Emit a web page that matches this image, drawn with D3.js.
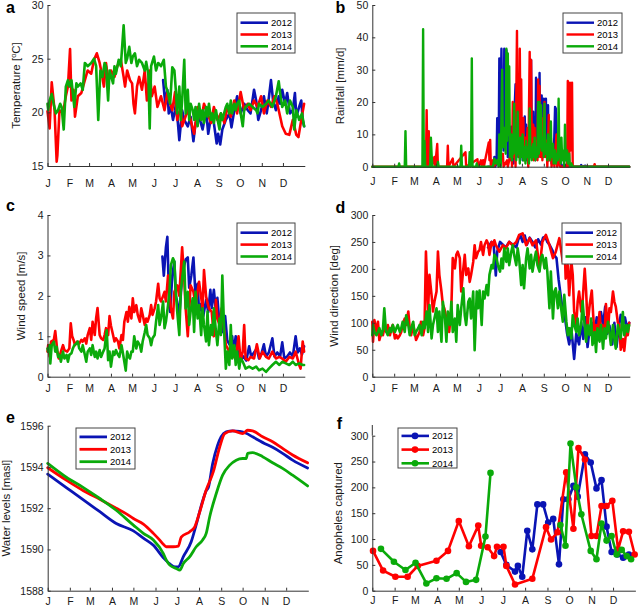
<!DOCTYPE html>
<html><head><meta charset="utf-8">
<script src="https://cdn.jsdelivr.net/npm/d3@7"></script>
<style>body{margin:0;background:#fff}svg{font-family:Arial,"Liberation Sans",Helvetica,sans-serif}</style>
</head><body><svg id="chart" width="638" height="607"></svg>
<script>
const years = ["2012","2013","2014"];
const colors = ["#0a14b4","#ff0000","#0aaa0a"];
const monthTicks = [1,32,60,91,121,152,182,213,244,274,305,335];
const monthLabels = ["J","F","M","A","M","J","J","A","S","O","N","D"];

// (a) Temperature [°C], [day, value]
const tempB = [[165,23],[168,20.8],[171,22.1],[173,19.9],[176,20.5],[179,19.3],[182,20.2],[183,20.8],[186,19],[188,17.4],[192,20.2],[195,19.3],[200,18.7],[204,19.6],[208,17.3],[211,19],[216,19.6],[221,18.4],[226,20.2],[229,18],[233,19.6],[237,19],[241,17.1],[243,18],[246,17],[249,18.4],[254,19.3],[259,19.9],[262,18.6],[266,20.2],[270,21.5],[275,19.9],[280,20.8],[285,20.2],[289,19.9],[294,22.1],[297,21.1],[300,19.3],[304,20.2],[308,21.5],[312,19.9],[314,20.8],[318,23],[321,21.1],[325,20.2],[329,21.5],[331,20.8],[334,22.1],[338,20.8],[341,21.8],[345,19.9],[349,20.2],[352,21.8],[354,19.6],[358,20.5],[361,21.1],[363,19.3],[365,18.7]];
const tempR = [[1,20.1],[4,18.5],[7,22.8],[11,20.2],[14,15.4],[15,16],[18,20.2],[23,19.9],[27,21.5],[30,22.4],[33,25.9],[35,21.1],[38,22.1],[40,19.6],[44,21.5],[49,21.8],[54,23],[58,23.9],[63,23.6],[67,24.9],[71,25.5],[75,24.6],[78,23.6],[81,22.4],[84,24.6],[87,23],[91,23.9],[96,23.3],[100,24.3],[105,24.9],[109,23.3],[111,22.4],[114,23.9],[118,23],[121,22.7],[123,20.8],[125,19.9],[128,22.4],[131,23.3],[135,22.1],[139,23.9],[142,21.1],[146,23.9],[149,21.5],[153,22.4],[157,20.5],[162,21.5],[167,20.2],[171,21.8],[175,20.8],[178,20.2],[182,21.9],[185,19.3],[190,20.5],[192,18.7],[200,20.2],[204,19.3],[209,18],[214,20.5],[219,19.3],[223,20.8],[228,19.9],[233,19],[237,20.5],[242,19.3],[247,19.9],[252,19],[256,20.5],[261,19.6],[266,21.1],[270,19.9],[275,21.9],[280,20.2],[285,20.8],[289,20.2],[294,21.1],[299,20.5],[304,21.5],[308,19.9],[313,21.1],[318,20.5],[323,21.5],[327,20.8],[332,19.3],[334,18.7],[339,18],[344,17.9],[349,19.3],[354,17.9],[357,17.7],[361,19.3],[365,20.8]];
const tempG = [[1,20.8],[2,20.2],[4,21.1],[7,21.7],[10,20.7],[13,19.9],[16,20.2],[19,20.8],[21,20.5],[24,18.4],[27,22.4],[30,23],[32,22.4],[35,23],[39,20.5],[42,22.7],[44,22.4],[48,22.7],[51,22.1],[54,24.6],[58,24.3],[63,24.6],[67,25],[70,24.3],[73,19.3],[76,23.9],[79,23.3],[82,24.6],[84,24.3],[87,21.1],[89,23.9],[94,22.7],[96,24.3],[98,23.6],[102,24.9],[105,24.3],[109,28.1],[112,24.6],[114,25],[117,26.1],[120,24.6],[122,25.2],[125,25.5],[128,24.3],[131,24.9],[135,24.6],[139,23.9],[141,24.7],[144,23.6],[146,18.5],[148,24.3],[152,25.2],[155,23.9],[158,24.6],[162,24.3],[166,24.9],[169,22.4],[172,21.8],[175,20.8],[178,24.2],[181,23.9],[183,22.1],[185,19.9],[188,22.4],[190,19.3],[192,21.1],[195,24.9],[197,19.9],[200,22.1],[202,19.3],[204,20.8],[207,20.2],[209,19.3],[211,20.5],[214,18.7],[216,20.8],[219,19.3],[221,20.2],[223,19],[226,20.5],[228,19.6],[230,20.8],[233,19.3],[235,19.9],[237,19],[240,20.2],[242,19.4],[245,18.4],[247,19.9],[249,19.3],[254,20.5],[256,20.8],[259,19.9],[261,21.1],[263,19.9],[266,20.8],[268,20.2],[270,20.8],[273,21.1],[275,19.9],[278,18.7],[280,20.2],[282,20.5],[287,20.8],[292,20.5],[297,20.2],[299,19.9],[301,20.8],[306,20.5],[311,20.8],[315,21.1],[320,20.5],[325,21.5],[329,22.9],[331,21.8],[334,20.5],[338,21.1],[341,19.9],[345,21.1],[349,20.5],[351,18.4],[354,20.2],[358,19.3],[362,19.9],[365,18.7]];

// (b) Rainfall [mm/d]
const rainB = [[165,0],[173,0],[174,3],[175,0],[177,1],[178,15],[179,2],[180,5],[181,33.5],[182,10],[184,36.5],[185,12],[186,20],[187,5],[188,36.5],[189,10],[190,20],[191,36],[192,30],[193,3],[194,5],[195,9],[196,2],[198,12.4],[199,3],[200,6],[201,1],[203,20],[204,25.5],[205,4],[207,12],[208,3],[210,15.5],[211,3],[213,8],[214,2],[215,10],[216,3],[217,15.5],[218,4],[219,13],[220,2],[222,7],[223,2],[225,10],[226,33],[227,5],[229,17],[230,3],[231,6],[232,2],[233,27.5],[234,5],[235,10],[236,3],[238,29],[239,6],[240,10],[241,22],[242,3],[244,21],[245,4],[246,6],[247,21],[248,3],[250,19],[251,2],[253,6],[254,8],[255,1],[257,5],[258,2],[260,18.5],[261,18],[262,3],[264,6],[265,1],[267,3],[268,2],[269,0],[272,0.5],[273,0],[296,0],[297,0.5],[298,0],[303,0.3],[304,0],[365,0]];
const rainR = [[1,0],[77,0],[78,17.5],[79,2],[80,0],[81,11],[82,0],[84,3],[85,0],[89,3],[90,0],[93,7],[94,0],[107,0],[108,6.5],[109,0],[115,2.5],[116,0],[133,4.5],[134,0],[150,2.3],[151,0],[155,2],[156,0],[158,2],[159,0],[166,7.5],[167,2],[168,8.3],[169,0],[172,2],[173,0],[186,4],[187,0],[192,2],[193,0],[198,5],[199,0],[200,20],[201,3],[203,8],[204,0],[206,42],[207,5],[208,10],[209,3],[210,36.5],[211,8],[212,27],[213,4],[215,15],[216,2],[218,9],[219,3],[221,12],[222,0],[224,35.5],[225,6],[226,33],[227,4],[229,13],[230,2],[231,12],[232,3],[234,8],[235,2],[236,27],[237,5],[238,25],[239,3],[241,15],[242,2],[245,20],[246,3],[248,8],[249,0],[251,16],[252,2],[254,9],[255,0],[258,5],[259,0],[262,10],[263,0],[266,3],[267,0],[277,0],[278,26.5],[279,3],[280,0],[281,26],[282,5],[284,26],[285,0],[315,0],[316,0.8],[317,0],[365,0]];
const rainG = [[1,0],[38,0],[39,1],[40,0],[47,0],[48,11],[49,0],[72,0],[73,42.5],[74,0],[75,8],[76,0],[83,0],[84,9],[85,4],[86,0],[93,0],[94,1.5],[95,0],[126,0],[127,6.5],[128,0],[138,0],[139,4.5],[140,0],[141,1],[142,33.5],[143,0],[148,0],[149,1],[150,0],[172,0],[174,2.5],[176,1],[178,2],[180,0],[181,10],[182,3],[183,0],[185,30],[186,6],[188,12],[190,4],[191,36.5],[192,8],[193,35],[194,10],[195,31],[196,3],[198,10],[199,2],[200,9],[201,4],[202,19.5],[203,5],[204,8],[205,2],[207,17],[208,4],[209,8],[210,1],[211,9],[212,3],[214,10],[215,2],[217,6],[218,1],[219,8],[220,3],[222,6],[223,1],[224,18],[225,3],[226,6],[227,2],[229,7],[230,3],[231,9],[232,2],[234,6],[235,3],[236,20],[237,4],[238,20],[239,6],[240,19],[241,5],[243,9],[244,3],[245,19.5],[246,4],[248,7],[249,2],[250,10],[251,3],[252,6],[253,2],[254,14],[255,3],[257,7],[258,1],[260,5],[261,1],[263,4],[264,2],[265,21],[266,3],[267,6],[268,1],[269,9],[270,2],[272,5],[273,0],[274,13],[275,2],[277,5],[278,1],[280,4],[281,0],[283,1],[285,0],[365,0]];

// (c) Wind speed [m/s]
const windB = [[164,2.97],[166,2.5],[169,3.2],[171,3.46],[173,2.2],[175,1.6],[178,2.5],[181,2.85],[183,2.0],[185,1.85],[188,1.5],[192,2.5],[195,2.76],[197,2.9],[200,2.95],[202,2.2],[205,2.5],[208,2.95],[211,2.0],[214,2.3],[216,1.6],[219,1.8],[222,1.5],[226,1.9],[229,1.6],[232,2.15],[234,1.7],[237,2.15],[240,1.6],[242,1.95],[245,1.3],[248,1.5],[250,1.1],[253,1.5],[256,0.9],[259,0.8],[263,1.0],[265,0.6],[268,1.0],[271,0.6],[275,0.4],[279,0.5],[283,0.4],[287,0.75],[290,0.5],[294,0.6],[298,0.7],[301,0.45],[305,0.6],[308,0.8],[311,0.5],[315,0.6],[320,0.95],[323,0.5],[327,0.6],[331,0.5],[334,0.85],[337,0.45],[341,0.5],[345,0.6],[349,0.5],[353,1.0],[356,0.6],[359,0.7],[362,0.55],[365,0.75]];
const windR = [[1,0.62],[2,0.78],[4,0.5],[6,0.87],[10,0.91],[12,1.13],[15,0.62],[17,0.45],[20,0.62],[23,0.78],[25,0.66],[29,0.62],[32,0.7],[34,1.32],[36,1.0],[38,0.91],[40,0.78],[43,0.87],[46,0.82],[49,0.91],[51,0.87],[54,0.95],[56,0.82],[58,1.03],[61,1.2],[63,0.91],[65,1.36],[68,1.03],[70,1.45],[72,1.7],[75,1.03],[77,0.95],[80,0.91],[82,1.03],[84,1.2],[87,1.03],[89,1.5],[91,1.26],[94,1.03],[96,0.87],[98,0.95],[101,0.87],[103,0.7],[106,1.03],[108,0.91],[110,1.36],[113,1.6],[115,1.36],[117,1.73],[120,1.44],[122,1.94],[124,1.6],[127,1.77],[129,1.53],[132,1.36],[134,1.69],[136,1.53],[139,1.28],[141,1.44],[143,1.36],[146,1.53],[148,1.77],[150,1.53],[153,1.69],[155,1.86],[158,2.3],[160,1.94],[162,1.86],[165,2.0],[167,2.1],[169,1.86],[172,2.5],[174,2.1],[176,1.69],[179,1.44],[181,2.1],[185,2.26],[188,2.0],[192,3.2],[195,2.4],[197,1.69],[200,1.0],[204,2.26],[208,2.1],[211,1.77],[216,2.35],[221,1.69],[223,2.64],[226,1.98],[230,1.69],[234,1.6],[237,1.0],[240,1.9],[242,1.44],[245,1.28],[248,1.69],[252,1.1],[254,0.78],[259,0.62],[263,0.54],[268,0.45],[272,1.0],[275,0.4],[278,0.62],[280,1.28],[282,0.45],[286,0.41],[289,0.49],[294,0.45],[298,0.8],[302,0.45],[306,0.62],[311,0.49],[315,0.45],[320,0.62],[325,0.45],[330,0.49],[334,0.45],[339,0.37],[344,0.49],[349,0.45],[353,0.62],[358,0.29],[360,0.2],[363,0.87],[365,0.62]];
const windG = [[1,0.7],[2,0.62],[4,0.78],[5,0.33],[7,0.78],[10,0.87],[12,0.62],[14,0.74],[16,0.49],[18,0.54],[20,0.37],[23,0.62],[25,0.45],[28,0.54],[30,0.37],[32,0.54],[35,0.58],[37,0.7],[39,0.78],[42,0.82],[44,0.87],[46,0.7],[49,0.62],[51,0.78],[54,0.54],[56,0.37],[58,0.62],[61,0.7],[63,0.54],[65,0.78],[68,0.49],[70,0.62],[72,0.45],[75,0.66],[77,0.49],[80,0.62],[82,0.7],[85,1.15],[87,0.41],[89,0.62],[91,0.25],[94,0.62],[96,0.54],[98,0.66],[101,0.54],[103,0.49],[106,0.78],[108,0.58],[110,0.37],[112,0.15],[114,0.62],[116,0.49],[118,0.45],[120,0.62],[122,0.62],[124,1.0],[127,0.7],[129,0.87],[132,0.78],[134,0.62],[136,0.87],[139,1.1],[141,1.28],[143,1.03],[146,0.95],[148,0.78],[150,0.95],[153,1.03],[155,1.36],[158,1.77],[160,1.28],[162,1.44],[165,1.86],[167,1.2],[169,1.36],[172,1.77],[174,2.1],[176,2.76],[179,2.93],[181,2.85],[183,2.1],[185,1.61],[188,1.03],[190,2.1],[192,2.43],[195,2.85],[197,1.69],[200,2.1],[202,1.28],[204,1.61],[207,1.94],[209,1.11],[211,2.1],[214,1.44],[216,1.77],[219,1.03],[221,1.69],[223,1.28],[226,0.87],[228,1.61],[230,0.78],[233,1.28],[235,1.03],[237,1.69],[240,1.11],[242,0.78],[245,1.44],[247,1.03],[249,2.5],[252,0.95],[254,0.2],[256,0.62],[259,0.29],[261,1.28],[263,0.45],[266,0.78],[268,0.29],[270,0.62],[273,0.2],[275,0.45],[278,0.37],[280,0.29],[282,0.2],[287,0.25],[292,0.2],[297,0.25],[301,0.16],[306,0.2],[311,0.12],[315,0.2],[320,0.29],[325,0.37],[330,0.29],[334,0.37],[339,0.33],[344,0.29],[349,0.37],[353,0.29],[358,0.33],[363,0.29],[365,0.29]];

// (d) Wind direction [deg]
const dirB = [[165,240],[170,250],[173,245],[176,188],[178,232],[182,250],[186,245],[190,240],[195,250],[200,245],[205,240],[208,255],[211,262],[214,250],[217,262],[220,245],[224,258],[228,250],[232,240],[236,255],[240,245],[243,258],[246,260],[249,250],[252,245],[256,235],[259,225],[262,220],[265,180],[268,150],[271,120],[274,110],[277,80],[280,60],[283,90],[287,33],[290,80],[294,60],[297,100],[300,70],[303,110],[306,55],[309,90],[312,100],[316,80],[319,110],[322,85],[325,120],[328,95],[331,130],[334,80],[337,95],[341,60],[344,100],[347,55],[350,90],[353,115],[356,95],[359,110],[362,90],[365,100]];
const dirR = [[1,102],[2,65],[4,105],[7,83],[9,102],[11,68],[14,83],[16,77],[18,90],[21,83],[23,96],[26,77],[28,90],[30,96],[33,71],[35,77],[37,71],[40,77],[42,83],[44,96],[47,108],[49,96],[52,121],[54,90],[56,77],[59,96],[61,83],[63,68],[66,77],[68,83],[70,102],[73,77],[75,90],[77,232],[80,121],[82,189],[85,151],[87,121],[89,139],[92,158],[94,232],[96,189],[99,158],[101,133],[103,127],[106,108],[108,96],[110,83],[113,127],[115,220],[118,201],[120,226],[122,232],[125,220],[127,158],[130,201],[132,226],[134,189],[137,201],[139,176],[141,189],[144,213],[146,244],[148,220],[151,232],[153,235],[155,250],[158,226],[160,244],[163,253],[165,247],[167,226],[170,250],[172,244],[174,253],[176,244],[181,232],[186,244],[190,238],[195,250],[200,244],[205,250],[209,263],[214,266],[219,244],[224,257],[228,244],[233,253],[238,201],[242,250],[247,263],[252,244],[257,220],[261,232],[266,257],[271,213],[273,262],[275,182],[278,207],[280,151],[283,215],[285,189],[287,121],[290,96],[292,139],[294,158],[297,121],[299,140],[302,200],[304,158],[306,96],[309,133],[312,160],[314,114],[316,77],[318,96],[320,77],[323,120],[325,83],[327,96],[330,71],[332,135],[335,83],[337,127],[339,120],[342,158],[344,139],[346,130],[349,100],[351,96],[353,50],[356,70],[358,48],[361,90],[363,77],[365,100]];
const dirG = [[1,77],[2,96],[4,83],[7,77],[9,83],[11,90],[14,77],[16,87],[18,127],[20,90],[21,83],[23,77],[26,90],[28,83],[30,96],[33,83],[35,90],[37,96],[40,83],[42,90],[44,102],[47,83],[49,114],[52,96],[54,77],[56,90],[59,102],[61,77],[63,83],[66,90],[68,96],[71,77],[73,102],[75,90],[78,121],[80,83],[82,133],[85,71],[87,96],[89,108],[92,127],[94,83],[96,121],[99,65],[101,139],[104,108],[106,65],[108,121],[111,96],[113,139],[115,83],[118,108],[120,65],[122,133],[125,96],[127,127],[130,164],[132,114],[134,96],[137,139],[139,145],[141,108],[144,158],[146,49],[149,158],[151,127],[153,160],[156,96],[158,158],[160,145],[163,170],[165,151],[167,189],[170,207],[172,201],[174,226],[177,220],[179,207],[182,195],[184,219],[186,201],[188,238],[191,213],[193,238],[195,207],[198,232],[200,244],[202,226],[205,207],[207,238],[209,220],[212,170],[214,207],[216,164],[219,220],[221,238],[224,201],[226,226],[228,195],[231,220],[233,232],[235,207],[238,195],[240,220],[242,226],[245,201],[247,220],[249,195],[252,127],[254,195],[257,108],[259,158],[261,164],[264,127],[266,158],[268,133],[271,102],[273,152],[276,102],[278,77],[280,90],[283,71],[285,114],[287,96],[290,83],[292,108],[294,77],[297,96],[299,140],[301,108],[304,65],[306,96],[309,77],[311,108],[313,59],[316,83],[318,46],[320,90],[323,65],[325,96],[328,52],[330,90],[332,71],[335,102],[337,83],[339,59],[342,96],[344,71],[346,52],[349,96],[351,83],[353,71],[356,120],[358,77],[361,96],[363,83],[365,96]];

// (e) Water levels [masl]
const levelB = [[1,1593.65],[27,1593.0],[51,1592.4],[74,1591.83],[97,1591.26],[121,1590.9],[135,1590.55],[149,1590.2],[163,1589.6],[172,1589.3],[180,1589.15],[184,1589.16],[191,1589.65],[202,1590.37],[209,1591.2],[218,1592.35],[223,1592.85],[226,1593.0],[232,1594.15],[239,1595.06],[244,1595.47],[251,1595.7],[260,1595.75],[270,1595.72],[279,1595.63],[288,1595.46],[307,1595.1],[316,1594.95],[330,1594.66],[344,1594.33],[365,1593.95]];
const levelR = [[1,1593.96],[27,1593.36],[51,1592.85],[74,1592.43],[97,1592.0],[110,1591.75],[121,1591.5],[135,1591.23],[149,1590.78],[158,1590.45],[163,1590.25],[167,1590.13],[177,1590.13],[184,1590.16],[188,1590.6],[200,1590.86],[207,1591.1],[214,1591.83],[223,1592.88],[233,1593.77],[242,1594.98],[249,1595.62],[260,1595.75],[274,1595.62],[281,1595.78],[288,1595.75],[302,1595.46],[316,1595.22],[330,1594.9],[344,1594.58],[365,1594.2]];
const levelG = [[1,1594.17],[27,1593.5],[51,1593.0],[74,1592.47],[97,1591.9],[121,1591.18],[135,1590.78],[149,1590.46],[163,1589.8],[167,1589.49],[172,1589.24],[181,1589.08],[186,1589.0],[191,1589.32],[200,1589.65],[209,1590.13],[218,1590.46],[223,1590.78],[228,1591.6],[237,1592.7],[246,1593.6],[256,1594.09],[265,1594.33],[274,1594.41],[279,1594.41],[281,1594.66],[288,1594.69],[302,1594.5],[316,1594.2],[330,1593.93],[344,1593.6],[365,1593.08]];

// (f) Anopheles captured (null = gap)
const anoB = [[179,75],[187,50],[199,37],[203,48],[209,27],[216,116],[223,80],[230,167],[238,167],[245,132],[252,139],[260,51],[266,177],[273,177],[280,203],[286,182],[296,264],[304,248],[312,198],[319,214],[326,124],[333,75],[341,70],[349,64],[357,70]];
const anoR = [[2,77],[16,39],[33,27],[50,27],[64,48],[90,58],[106,77],[121,135],[135,86],[148,126],[152,87],[161,84],[170,67],[174,85],[183,85],[187,48],[199,12],[223,23],[242,123],[249,99],[258,113],[270,229],[280,120],[287,276],[296,254],[305,106],[312,106],[319,164],[326,164],[334,174],[342,80],[349,115],[357,114],[365,70]];
const anoG = [[13,81],[31,56],[47,40],[61,54],[76,14],[90,24],[104,23],[118,34],[131,17],[145,21],[158,105],[165,228],[200,null],[262,127],[269,87],[276,285],[284,200],[291,148],[304,77],[312,61],[319,130],[326,97],[333,106],[340,70],[347,79],[354,67],[360,61]];

const svg = d3.select("#chart");
const fmt = d3.format("~g");

function drawPanel(p) {
  const g = svg.append("g");
  const x = d3.scaleLinear().domain([1, 366]).range([p.x0, p.x1]);
  const y = d3.scaleLinear().domain(p.yDomain).range([p.yBot, p.yTop]);
  const line = d3.line().defined(d => d[1] != null).x(d => x(d[0])).y(d => y(d[1]));
  if (p.curve) line.curve(p.curve);
  p.series.forEach((s, i) => {
    g.append("path").datum(s).attr("d", line)
      .attr("fill", "none").attr("stroke", colors[i]).attr("stroke-width", p.lw)
      .attr("stroke-linejoin", "round").attr("stroke-linecap", "round");
    if (p.markers) {
      g.selectAll(null).data(s.filter(d => d[1] != null)).join("circle")
        .attr("cx", d => x(d[0])).attr("cy", d => y(d[1])).attr("r", 3.3).attr("fill", colors[i]);
    }
  });
  const ax = g.append("g").attr("transform", `translate(0,${p.yBot})`)
    .call(d3.axisBottom(x).tickValues(monthTicks).tickFormat((d, i) => monthLabels[i]).tickSize(-3).tickSizeOuter(0).tickPadding(p.xPad));
  const ay = g.append("g").attr("transform", `translate(${p.x0},0)`)
    .call(d3.axisLeft(y).tickValues(p.yTicks).tickFormat(fmt).tickSize(-3).tickSizeOuter(0).tickPadding(4));
  [ax, ay].forEach(a => {
    a.selectAll("text").attr("font-size", "10.5px").attr("fill", "#1a1a1a").attr("font-family", "Arial, 'Liberation Sans', sans-serif");
    a.selectAll("line").attr("stroke", "#333");
    a.select(".domain").attr("stroke", "#333");
  });
  if (p.yExtTop != null) {
    g.append("line").attr("x1", p.x0).attr("x2", p.x0).attr("y1", p.yTop).attr("y2", p.yExtTop).attr("stroke", "#333");
  }
  const lab = g.append("text").attr("transform", `translate(${p.labX},${(p.yTop + p.yBot) / 2}) rotate(-90)`)
    .attr("text-anchor", "middle").attr("font-size", "11.5px").attr("fill", "#1a1a1a");
  if (p.labelSup) {
    lab.append("tspan").text(p.label[0]);
    lab.append("tspan").text(p.label[1]).attr("font-size", "7.5px").attr("dy", "-4");
    lab.append("tspan").text(p.label[2]).attr("dy", "4");
  } else lab.text(p.label);
  g.append("text").attr("x", p.letterX).attr("y", p.letterY).attr("text-anchor", "middle")
    .attr("font-size", "16px").attr("font-weight", "bold").attr("fill", "#000").text(p.letter);
  const L = p.legend;
  const lg = g.append("g");
  lg.append("rect").attr("x", L.x).attr("y", L.y).attr("width", L.w).attr("height", L.h)
    .attr("fill", "#fff").attr("stroke", "#444").attr("stroke-width", 1);
  years.forEach((yr, i) => {
    const yy = L.y + L.r0 + i * L.dr;
    lg.append("line").attr("x1", L.x + 3.5).attr("x2", L.x + 31).attr("y1", yy).attr("y2", yy)
      .attr("stroke", colors[i]).attr("stroke-width", p.lw);
    if (p.markers) lg.append("circle").attr("cx", L.x + 17).attr("cy", yy).attr("r", 3.3).attr("fill", colors[i]);
    lg.append("text").attr("x", L.x + 34).attr("y", yy).attr("dy", "0.36em").attr("font-size", "9.5px")
      .attr("fill", "#000").text(yr);
  });
}

const panels = [
  {letter:"a", letterX:10.5, letterY:12.7, x0:47.5, x1:304.8, yTop:5, yBot:166, yDomain:[15,30], yTicks:[15,20,25,30],
   label:["Temperature [","o","C]"], labelSup:true, labX:20, xPad:14, lw:2.6,
   series:[tempB,tempR,tempG], legend:{x:237,y:13,w:58,h:40,r0:9.7,dr:11.8}},
  {letter:"b", letterX:340.5, letterY:13.3, x0:372.3, x1:629.9, yTop:5, yBot:166.7, yDomain:[0,50], yTicks:[0,10,20,30,40,50],
   label:"Rainfall [mm/d]", labX:343.5, xPad:11.3, lw:2.4,
   series:[rainB,rainR,rainG], legend:{x:563,y:13,w:59,h:40,r0:9.7,dr:11.8}},
  {letter:"c", letterX:10.5, letterY:211, x0:47.5, x1:304.8, yTop:215, yBot:376.7, yDomain:[0,4], yTicks:[0,1,2,3,4],
   label:"Wind speed [m/s]", labX:24.5, xPad:7.7, lw:2.6,
   series:[windB,windR,windG], legend:{x:237,y:223,w:58,h:41,r0:9.7,dr:11.9}},
  {letter:"d", letterX:340.5, letterY:213.3, x0:372.3, x1:629.9, yTop:215, yBot:376.7, yDomain:[0,300], yTicks:[0,50,100,150,200,250,300],
   label:"Wind direction [deg]", labX:338, xPad:7.9, lw:2.6,
   series:[dirB,dirR,dirG], legend:{x:562,y:223,w:59,h:41,r0:9.7,dr:11.9}},
  {letter:"e", letterX:10.5, letterY:423.3, x0:47.7, x1:308.3, yTop:425.7, yBot:590.7, yDomain:[1588,1596], yTicks:[1588,1590,1592,1594,1596],
   label:"Water levels [masl]", labX:9.5, xPad:7.3, lw:2.8, curve:d3.curveMonotoneX,
   series:[levelB,levelR,levelG], legend:{x:76,y:428,w:59,h:41,r0:8.9,dr:12.4}},
  {letter:"f", letterX:339.5, letterY:429.3, x0:372.3, x1:635.4, yTop:435.7, yBot:590.7, yExtTop:425, yDomain:[0,300], yTicks:[0,50,100,150,200,250,300],
   label:"Anopheles captured", labX:342, xPad:5.8, lw:2.6, markers:true,
   series:[anoB,anoR,anoG], legend:{x:398,y:428,w:59,h:40,r0:7.9,dr:13.7}}
];
panels.forEach(drawPanel);
</script>
</body></html>
